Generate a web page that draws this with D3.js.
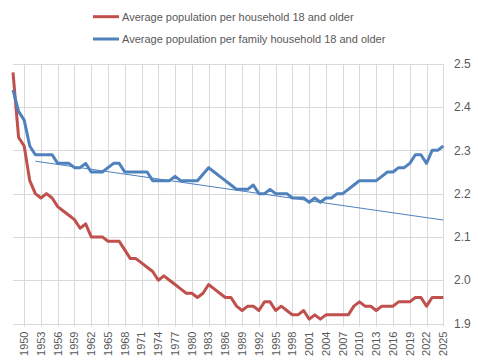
<!DOCTYPE html>
<html>
<head>
<meta charset="utf-8">
<script src="https://cdn.jsdelivr.net/npm/d3@7"></script>
<style>
  body { margin: 0; background: #fff; }
  text { font-family: "Liberation Sans", Arial, sans-serif; fill: #595959; }
</style>
</head>
<body>
<div id="chart"></div>
<script>
// years 1948..2025, one value per year
const years = d3.range(1948, 2026);

const household = [
  2.48, 2.33, 2.31, 2.23, 2.20, 2.19, 2.20, 2.19, 2.17, 2.16,
  2.15, 2.14, 2.12, 2.13, 2.10, 2.10, 2.10, 2.09, 2.09, 2.09,
  2.07, 2.05, 2.05, 2.04, 2.03, 2.02, 2.00, 2.01, 2.00, 1.99,
  1.98, 1.97, 1.97, 1.96, 1.97, 1.99, 1.98, 1.97, 1.96, 1.96,
  1.94, 1.93, 1.94, 1.94, 1.93, 1.95, 1.95, 1.93, 1.94, 1.93,
  1.92, 1.92, 1.93, 1.91, 1.92, 1.91, 1.92, 1.92, 1.92, 1.92,
  1.92, 1.94, 1.95, 1.94, 1.94, 1.93, 1.94, 1.94, 1.94, 1.95,
  1.95, 1.95, 1.96, 1.96, 1.94, 1.96, 1.96, 1.96
];

const family = [
  2.44, 2.39, 2.37, 2.31, 2.29, 2.29, 2.29, 2.29, 2.27, 2.27,
  2.27, 2.26, 2.26, 2.27, 2.25, 2.25, 2.25, 2.26, 2.27, 2.27,
  2.25, 2.25, 2.25, 2.25, 2.25, 2.23, 2.23, 2.23, 2.23, 2.24,
  2.23, 2.23, 2.23, 2.23, 2.245, 2.26, 2.25, 2.24, 2.23, 2.22,
  2.21, 2.21, 2.21, 2.22, 2.20, 2.20, 2.21, 2.20, 2.20, 2.20,
  2.19, 2.19, 2.19, 2.18, 2.19, 2.18, 2.19, 2.19, 2.20, 2.20,
  2.21, 2.22, 2.23, 2.23, 2.23, 2.23, 2.24, 2.25, 2.25, 2.26,
  2.26, 2.27, 2.29, 2.29, 2.27, 2.30, 2.30, 2.31
];

// thin trend line (endpoints)
const trendYears = [1952, 2025];
const trendValues = [2.275, 2.139];

const seriesNames = [
  "Average population per household 18 and older",
  "Average population per family household 18 and older"
];
const seriesColors = ["#C0504D", "#4F81BD"];

const yTicks = [1.9, 2.0, 2.1, 2.2, 2.3, 2.4, 2.5];
const xTickYears = d3.range(1950, 2026, 3);

const width = 478;
const height = 363;

const x = d3.scaleLinear().domain([1948, 2025]).range([13, 443.3]);
const y = d3.scaleLinear().domain([1.9, 2.5]).range([323.5, 63.8]);

const svg = d3.select("#chart")
  .append("svg")
  .attr("width", width)
  .attr("height", height);

// horizontal gridlines
svg.selectAll(".hgrid")
  .data(yTicks)
  .enter()
  .append("line")
  .attr("x1", 13)
  .attr("x2", x(2025))
  .attr("y1", d => Math.round(y(d)) + 0.5)
  .attr("y2", d => Math.round(y(d)) + 0.5)
  .attr("stroke", "#d9d9d9")
  .attr("stroke-width", 1);

// vertical gridlines
svg.selectAll(".vgrid")
  .data(xTickYears)
  .enter()
  .append("line")
  .attr("x1", d => Math.round(x(d)) + 0.5)
  .attr("x2", d => Math.round(x(d)) + 0.5)
  .attr("y1", y(2.5))
  .attr("y2", y(1.9) + 3)
  .attr("stroke", "#d9d9d9")
  .attr("stroke-width", 1);

// y labels on the right
svg.selectAll(".ylab")
  .data(yTicks)
  .enter()
  .append("text")
  .attr("x", 454)
  .attr("y", d => y(d))
  .attr("dy", "0.35em")
  .style("font-size", "12px")
  .text(d => d.toFixed(1));

// x labels rotated
svg.selectAll(".xlab")
  .data(xTickYears)
  .enter()
  .append("text")
  .attr("transform", d => `translate(${x(d)},${y(1.9) + 8}) rotate(-90)`)
  .attr("dy", "0.35em")
  .attr("text-anchor", "end")
  .style("font-size", "11px")
  .text(d => d);

const line = d3.line()
  .x(d => x(d[0]))
  .y(d => y(d[1]));

// trend line
svg.append("path")
  .datum(d3.zip(trendYears, trendValues))
  .attr("fill", "none")
  .attr("stroke", "#4F81BD")
  .attr("stroke-width", 1)
  .attr("d", line);

[household, family].forEach((vals, i) => {
  svg.append("path")
    .datum(d3.zip(years, vals))
    .attr("fill", "none")
    .attr("stroke", seriesColors[i])
    .attr("stroke-width", 3)
    .attr("stroke-linejoin", "round")
    .attr("d", line);
});

// legend
const legend = svg.selectAll(".legend")
  .data(seriesNames)
  .enter()
  .append("g")
  .attr("transform", (d, i) => `translate(93,${16.7 + i * 22.3})`);

legend.append("line")
  .attr("x1", 0)
  .attr("x2", 26)
  .attr("stroke", (d, i) => seriesColors[i])
  .attr("stroke-width", 3);

legend.append("text")
  .attr("x", 29)
  .attr("dy", "0.35em")
  .style("font-size", "11px")
  .text(d => d);
</script>
</body>
</html>
